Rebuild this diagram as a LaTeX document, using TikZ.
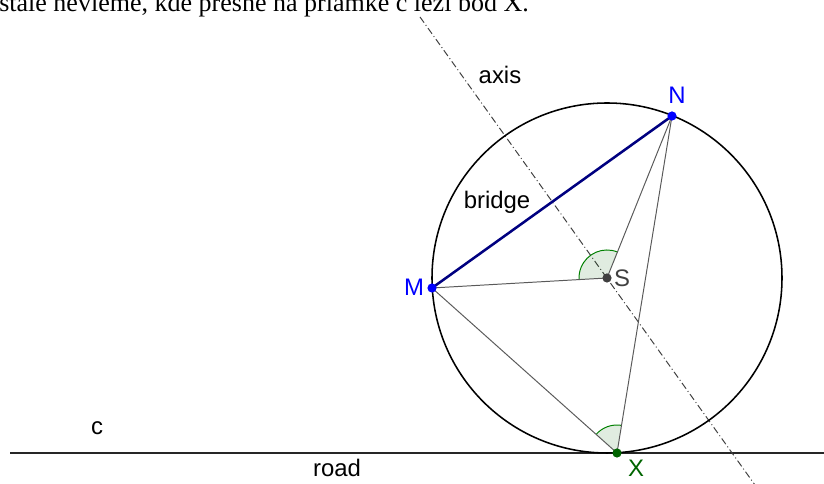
\documentclass[tikz,border=0pt]{standalone}
\usepackage{fontspec}
\setmainfont{Liberation Sans}
\newfontfamily\noteserif{Liberation Serif}
\usetikzlibrary{positioning}
\definecolor{geoblue}{RGB}{0,0,255}
\definecolor{geonavy}{RGB}{0,0,128}
\definecolor{geogreen}{RGB}{0,100,0}
\definecolor{geogray}{RGB}{64,64,64}
\definecolor{segmentgray}{RGB}{90,90,90}
\tikzset{
  geopoint/.style={circle, inner sep=0pt, minimum size=0.23cm},
  geolabel/.style={inner sep=0pt, font=\fontsize{17}{20}\selectfont},
  notetext/.style={inner sep=0pt, anchor=base west, font=\noteserif\fontsize{18.5}{22}\selectfont},
  circleline/.style={line width=1.1pt, black},
  roadline/.style={line width=1.4pt, black!85},
  axisline/.style={line width=0.7pt, black!75, dash pattern=on 5pt off 2pt on 0.7pt off 2pt},
  segment/.style={line width=0.7pt, segmentgray},
  bridgeline/.style={line width=1.8pt, geonavy},
  anglefill/.style={fill=geogreen, fill opacity=0.12},
  anglearc/.style={line width=0.7pt, green!50!black}
}
\begin{document}
\begin{tikzpicture}[x=0.025cm, y=0.025cm]
\useasboundingbox (0,0) rectangle (824,484);
\coordinate (m) at (432,196);
\coordinate (n) at (672,368);
\coordinate (s) at (607,206);
\coordinate (x) at (617,31);
\coordinate (roadL) at (10,31);
\coordinate (roadR) at (830,31);
\coordinate (axisT) at (420,467);
\coordinate (axisB) at (760,-8);

\node[notetext] (note) at (-1,472) {stále nevieme, kde presne na priamke c leží bod X.};

\draw[roadline] (roadL) -- (roadR);
\draw[axisline] (axisT) -- (axisB);
\draw[circleline] (s) circle[radius=175];

\fill[anglefill] (s) -- +(68.14:28) arc[start angle=68.14, end angle=183.27, radius=28] -- cycle;
\draw[anglearc] (s) ++(68.14:28) arc[start angle=68.14, end angle=183.27, radius=28];
\fill[anglefill] (x) -- +(80.73:28) arc[start angle=80.73, end angle=138.28, radius=28] -- cycle;
\draw[anglearc] (x) ++(80.73:28) arc[start angle=80.73, end angle=138.28, radius=28];

\draw[segment] (m) -- (s);
\draw[segment] (s) -- (n);
\draw[segment] (m) -- (x);
\draw[segment] (n) -- (x);
\draw[bridgeline] (m) -- (n);

\node[geopoint, fill=geoblue] (M) at (m) {};
\node[geopoint, fill=geoblue] (N) at (n) {};
\node[geopoint, fill=geogray] (S) at (s) {};
\node[geopoint, fill=geogreen] (X) at (x) {};

\node[geolabel, text=geoblue] (labM) at (414,197) {M};
\node[geolabel, text=geoblue] (labN) at (677,389) {N};
\node[geolabel, text=geogray] (labS) at (622,206) {S};
\node[geolabel, text=geogreen] (labX) at (636,16) {X};
\node[geolabel] (axislab) at (500,409) {axis};
\node[geolabel] (bridgelab) at (497,282) {bridge};
\node[geolabel] (clab) at (97,56) {c};
\node[geolabel] (roadlab) at (337,16) {road};
\end{tikzpicture}
\end{document}
